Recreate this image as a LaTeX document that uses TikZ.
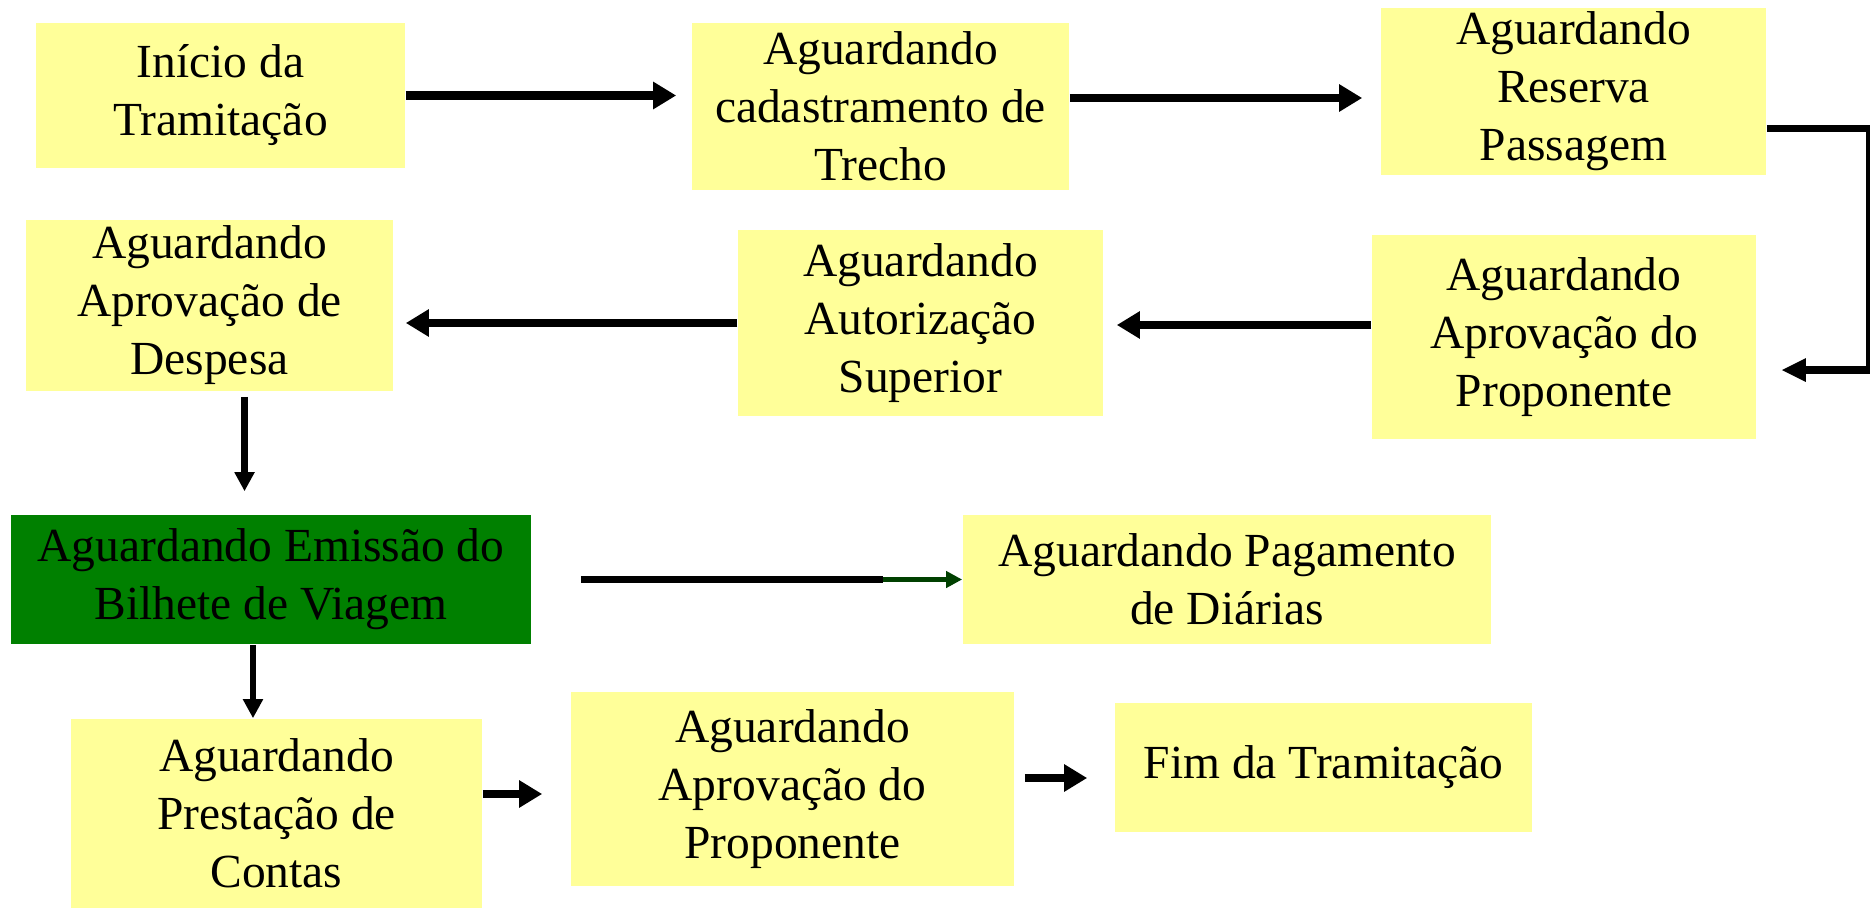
\documentclass[tikz,border=0pt]{standalone}
\usepackage{fontspec}
\setmainfont{Liberation Serif}
\usetikzlibrary{arrows.meta}
\definecolor{boxyellow}{RGB}{255,255,153}
\definecolor{boxgreen}{RGB}{0,128,0}
\definecolor{arrowgreen}{RGB}{0,64,0}

\begin{document}
\begin{tikzpicture}[x=0.01cm,y=-0.01cm,
    stbox/.style={fill=boxyellow,inner sep=0pt,align=center,font=\fontsize{13.5}{16.5}\selectfont},
    fwd/.style={line width=0.08cm,-{Triangle[length=0.23cm,width=0.26cm]}},
    dwn/.style={line width=0.065cm,-{Triangle[length=0.19cm,width=0.19cm]}}]
    \useasboundingbox (0,0) rectangle (1870,909);
    % Definitions
    \coordinate (IT)   at (220.5,95.5);
    \coordinate (ACT)  at (880.5,106.5);
    \coordinate (ARP)  at (1573.5,91.5);
    \coordinate (AAD)  at (209.5,305.5);
    \coordinate (AAS)  at (920.5,323);
    \coordinate (AAP)  at (1564,337);
    \coordinate (AEB)  at (271,579.5);
    \coordinate (APD)  at (1227,579.5);
    \coordinate (APC)  at (276.5,813.5);
    \coordinate (AAPB) at (792.5,789);
    \coordinate (FT)   at (1323.5,767.5);
    % Nodes
    \node(InTr)    at (IT)   [stbox,minimum width=3.69cm,minimum height=1.45cm] {Início da\\Tramitação};
    \node(AgCaTr)  at (ACT)  [stbox,minimum width=3.77cm,minimum height=1.67cm] {Aguardando\\cadastramento de\\Trecho};
    \node(AgRePa)  at (ARP)  [stbox,minimum width=3.85cm,minimum height=1.67cm] {Aguardando\\Reserva\\Passagem};
    \node(AgApDe)  at (AAD)  [stbox,minimum width=3.67cm,minimum height=1.71cm] {Aguardando\\Aprovação de\\Despesa};
    \node(AgAuSu)  at (AAS)  [stbox,minimum width=3.65cm,minimum height=1.86cm] {Aguardando\\Autorização\\Superior};
    \node(AgApPr)  at (AAP)  [stbox,minimum width=3.84cm,minimum height=2.04cm] {Aguardando\\Aprovação do\\Proponente};
    \node(AgEmBi)  at (AEB)  [stbox,fill=boxgreen,minimum width=5.20cm,minimum height=1.29cm] {Aguardando Emissão do\\Bilhete de Viagem};
    \node(AgPaDi)  at (APD)  [stbox,minimum width=5.28cm,minimum height=1.29cm] {Aguardando Pagamento\\de Diárias};
    \node(AgPrCo)  at (APC)  [stbox,minimum width=4.11cm,minimum height=1.89cm] {Aguardando\\Prestação de\\Contas};
    \node(AgApPrB) at (AAPB) [stbox,minimum width=4.43cm,minimum height=1.94cm] {Aguardando\\Aprovação do\\Proponente};
    \node(FiTr)    at (FT)   [stbox,minimum width=4.17cm,minimum height=1.29cm] {Fim da Tramitação};
    % Elbow on the right
    \coordinate (RPout) at ([yshift=-0.37cm]AgRePa.east);
    \coordinate (APin)  at ([yshift=-0.33cm]AgApPr.east);
    \coordinate (RT)    at (1868,0);
    % Arrows
    \draw[fwd,shorten >=0.15cm] (InTr.east) -- (InTr.east -| AgCaTr.west);
    \draw[fwd,shorten >=0.18cm] ([yshift=0.085cm]AgCaTr.east) -- ([yshift=0.085cm]AgCaTr.east -| AgRePa.west);
    \draw[line width=0.033cm,-{Triangle[length=0.24cm,width=0.23cm]},shorten >=0.25cm]
        (RPout) -- (RPout -| RT) -- (APin -| RT) -- (APin);
    \draw[line width=0.073cm] (RPout) -- ([xshift=0.02cm]RPout -| RT);
    \draw[line width=0.073cm,shorten >=0.45cm] ([xshift=0.02cm]APin -| RT) -- (APin);
    \draw[fwd,shorten >=0.13cm] ([yshift=0.12cm]AgApPr.west) -- ([yshift=0.12cm]AgApPr.west -| AgAuSu.east);
    \draw[fwd,shorten >=0.12cm] (AgAuSu.west) -- (AgAuSu.west -| AgApDe.east);
    \draw[dwn,shorten <=0.05cm,shorten >=0.23cm] ([xshift=0.35cm]AgApDe.south) -- ([xshift=0.35cm]AgApDe.south |- AgEmBi.north);
    \draw[dwn] ([xshift=-0.18cm]AgEmBi.south) -- ([xshift=-0.18cm]AgEmBi.south |- AgPrCo.north);
    \draw[line width=0.05cm,arrowgreen,-{Triangle[length=0.16cm,width=0.16cm]},shorten <=0.49cm] (AgEmBi.east) -- (AgPaDi.west);
    \draw[line width=0.063cm,shorten <=0.49cm,shorten >=0.79cm] (AgEmBi.east) -- (AgPaDi.west);
    \draw[fwd,shorten >=0.28cm] ([yshift=0.195cm]AgPrCo.east) -- ([yshift=0.195cm]AgPrCo.east -| AgApPrB.west);
    \draw[fwd,shorten <=0.1cm,shorten >=0.27cm] ([yshift=0.11cm]AgApPrB.east) -- ([yshift=0.11cm]AgApPrB.east -| FiTr.west);
\end{tikzpicture}
\end{document}
